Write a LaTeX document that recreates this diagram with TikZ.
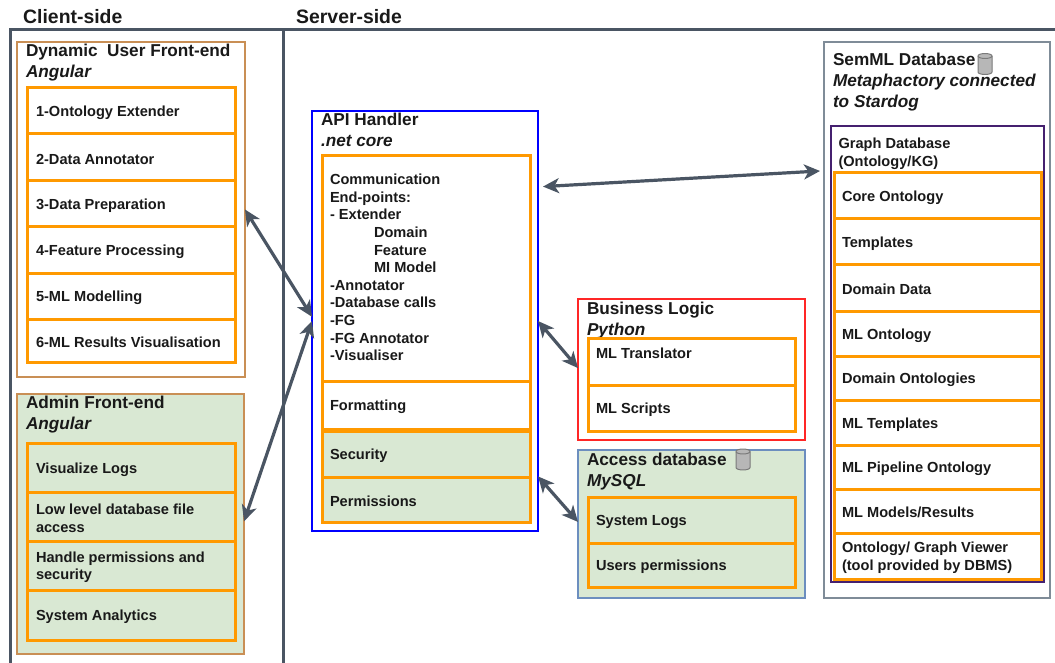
\documentclass[tikz,border=0pt]{standalone}
\usepackage{fontspec}
\setmainfont{Liberation Sans}
\usetikzlibrary{arrows.meta,calc}
\definecolor{slate}{HTML}{4A5563}
\definecolor{orng}{HTML}{FF9900}
\definecolor{brownb}{HTML}{C98F55}
\definecolor{greenf}{HTML}{D9E8D3}
\definecolor{greyb}{HTML}{7F8C98}
\definecolor{purp}{HTML}{45206F}
\definecolor{accb}{HTML}{6C8EBF}
\definecolor{cylf}{HTML}{B7B7B7}
\definecolor{cyld}{HTML}{7A7A7A}
\tikzset{
  box/.style={draw, rectangle, inner sep=0pt, outer sep=0pt, line width=1.8pt},
  rowbox/.style={box, draw=orng, line width=3pt},
  rowtext/.style={anchor=west, inner sep=0pt, outer sep=0pt, text=black!90, font=\rowfont, align=flush left},
  hdr/.style={anchor=north west, inner sep=0pt, outer sep=0pt, align=left, font=\hdrfont, text=black!90},
  side/.style={anchor=base west, inner sep=0pt, font=\sidefont, text=black!90},
  frameline/.style={draw=slate, line width=3pt},
  link/.style={draw=slate, line width=3.2pt, {Stealth[length=16pt,width=15pt,inset=4.5pt]}-{Stealth[length=16pt,width=15pt,inset=4.5pt]}},
  dbicon/.style={draw=cyld, fill=cylf, line width=1pt},
}
\newcommand{\rowfont}{\fontsize{14.6}{17.6}\selectfont\bfseries}
\newcommand{\hdrfont}{\fontsize{17.2}{21}\selectfont\bfseries}
\newcommand{\sidefont}{\fontsize{19.4}{22}\selectfont\bfseries}
\newcommand{\padx}{9}
% \bx{name}{x1}{y1}{x2}{y2}{style}: an empty box
\newcommand{\bx}[6]{%
  \pgfmathsetmacro{\bw}{#4-#2}\pgfmathsetmacro{\bh}{#5-#3}%
  \pgfmathsetmacro{\bcx}{(#2+#4)/2}\pgfmathsetmacro{\bcy}{(#3+#5)/2}%
  \node[#6, minimum width=\bw pt, minimum height=\bh pt] (#1) at (\bcx,\bcy) {};}
% \rw{name}{x1}{y1}{x2}{y2}{style}{text}: a row box with its text
\newcommand{\rw}[7]{%
  \bx{#1}{#2}{#3}{#4}{#5}{#6}%
  \pgfmathsetmacro{\tw}{#4-#2-2*\padx}%
  \pgfmathsetmacro{\tx}{#2+\padx}%
  \node[rowtext, text width=\tw pt] (#1t) at (\tx,\bcy+1.8) {#7};}
% \dbico{cx}{cy}
\newcommand{\dbico}[2]{%
  \begin{scope}[shift={(#1,#2)}]
    \draw[dbicon] (-7,-8) .. controls (-7,-11.3) and (7,-11.3) .. (7,-8) -- (7,8) .. controls (7,11.3) and (-7,11.3) .. (-7,8) -- cycle;
    \draw[dbicon,fill=none] (-7,-8) .. controls (-7,-4.7) and (7,-4.7) .. (7,-8);
  \end{scope}}
\begin{document}
\begin{tikzpicture}[x=1pt,y=-1pt]
\useasboundingbox (0,0) rectangle (1055,663);
\fill[white] (0,0) rectangle (1055,663);
% frame
\coordinate (ftl) at (10,30);
\coordinate (ftr) at (1055,30);
\coordinate (fbl) at (10,663);
\coordinate (fmt) at (283.5,30);
\coordinate (fmb) at (283.5,663);
\draw[frameline] (fbl) -- (ftl) -- (ftr);
\draw[frameline] (fmt) -- (fmb);
\node[side] (client) at (23,23.5) {Client-side};
\node[side] (server) at (296,23.5) {Server-side};
% Dynamic front-end
\bx{dyn}{17}{42}{245}{377}{box,draw=brownb}
\node[hdr] (dynh) at (26,44.5) {Dynamic\ \ User Front-end\\\textit{Angular}};
\rw{d1}{27}{88}{235}{134}{rowbox}{1-Ontology Extender}
\rw{d2}{27}{134}{235}{181}{rowbox}{2-Data Annotator}
\rw{d3}{27}{181}{235}{227}{rowbox}{3-Data Preparation}
\rw{d4}{27}{227}{235}{273}{rowbox}{4-Feature Processing}
\rw{d5}{27}{273}{235}{319}{rowbox}{5-ML Modelling}
\rw{d6}{27}{319}{235}{362}{rowbox}{6-ML Results Visualisation}
% Admin
\bx{adm}{17}{394}{244}{654}{box,draw=brownb,fill=greenf}
\node[hdr] (admh) at (26,396.5) {Admin Front-end\\\textit{Angular}};
\rw{a1}{27}{443}{235}{492}{rowbox}{Visualize Logs}
\rw{a2}{27}{492}{235}{541}{rowbox}{Low level database file access}
\rw{a3}{27}{541}{235}{590}{rowbox}{Handle permissions and security}
\rw{a4}{27}{590}{235}{640}{rowbox}{System Analytics}
% API
\bx{api}{312}{111}{538}{531}{box,draw=blue}
\node[hdr] (apih) at (321,113.5) {API Handler\\\textit{.net core}};
\renewcommand{\padx}{8}
\rw{ep}{322}{156}{530}{381}{rowbox}{Communication\\End-points:\\- Extender\\\hspace*{44pt}Domain\\\hspace*{44pt}Feature\\\hspace*{44pt}MI Model\\-Annotator\\-Database calls\\-FG\\-FG Annotator\\-Visualiser\par\vspace*{5.5pt}}
\rw{fmtg}{322}{381}{530}{429}{rowbox}{Formatting}
\rw{sec}{322}{431}{530}{477}{rowbox,fill=greenf}{Security}
\rw{perm}{322}{477}{530}{522}{rowbox,fill=greenf}{Permissions}
% Business
\bx{bus}{578}{299}{805}{440}{box,draw=red!85!white}
\node[hdr] (bush) at (587,302) {Business Logic\\\textit{Python}};
\bx{b1}{588}{338}{795}{385}{rowbox}
\node[rowtext] (b1t) at (596,353) {ML Translator};
\rw{b2}{588}{385}{795}{431}{rowbox}{ML Scripts}
% Access
\bx{acc}{578}{450}{805}{598}{box,draw=accb,fill=greenf}
\node[hdr] (acch) at (587,453) {Access database\\\textit{MySQL}};
\dbico{743}{459.5}
\rw{c1}{588}{497}{795}{543}{rowbox}{System Logs}
\rw{c2}{588}{543}{795}{587}{rowbox}{Users permissions}
% SemML
\bx{sem}{824}{42}{1050}{598}{box,draw=greyb}
\node[hdr] (semh) at (833,53.5) {SemML Database\\\textit{Metaphactory connected}\\\textit{to Stardog}};
\dbico{985}{64}
\bx{gdb}{831}{126}{1044}{582}{box,draw=purp,line width=2.4pt}
\node[hdr,font=\rowfont] (gdbh) at (838.5,138) {Graph Database\\(Ontology/KG)};
\rw{s1}{834}{173}{1041}{219}{rowbox}{Core Ontology}
\rw{s2}{834}{219}{1041}{264}{rowbox}{Templates}
\rw{s3}{834}{264}{1041}{311}{rowbox}{Domain Data}
\rw{s4}{834}{311}{1041}{356}{rowbox}{ML Ontology}
\rw{s5}{834}{356}{1041}{400}{rowbox}{Domain Ontologies}
\rw{s6}{834}{400}{1041}{445}{rowbox}{ML Templates}
\rw{s7}{834}{445}{1041}{489}{rowbox}{ML Pipeline Ontology}
\rw{s8}{834}{489}{1041}{533}{rowbox}{ML Models/Results}
\rw{s9}{834}{533}{1041}{579}{rowbox}{Ontology/ Graph Viewer\\(tool provided by DBMS)}
% connectors
\draw[link] ($(dyn.north east)!0.5!(dyn.south east)$) -- ($(api.north west)!0.49!(api.south west)$);
\draw[link] ($(adm.north east)!0.49!(adm.south east)$) -- ($(api.north west)!0.50!(api.south west)$);
\draw[link] ($(api.north east)!0.18!(api.south east)+(5,0)$) -- ($(sem.north west)!0.232!(sem.south west)+(-4,0)$);
\draw[link] ($(api.north east)!0.50!(api.south east)$) -- ($(bus.north west)!0.49!(bus.south west)$);
\draw[link] ($(api.north east)!0.87!(api.south east)$) -- ($(acc.north west)!0.486!(acc.south west)$);
\end{tikzpicture}
\end{document}
